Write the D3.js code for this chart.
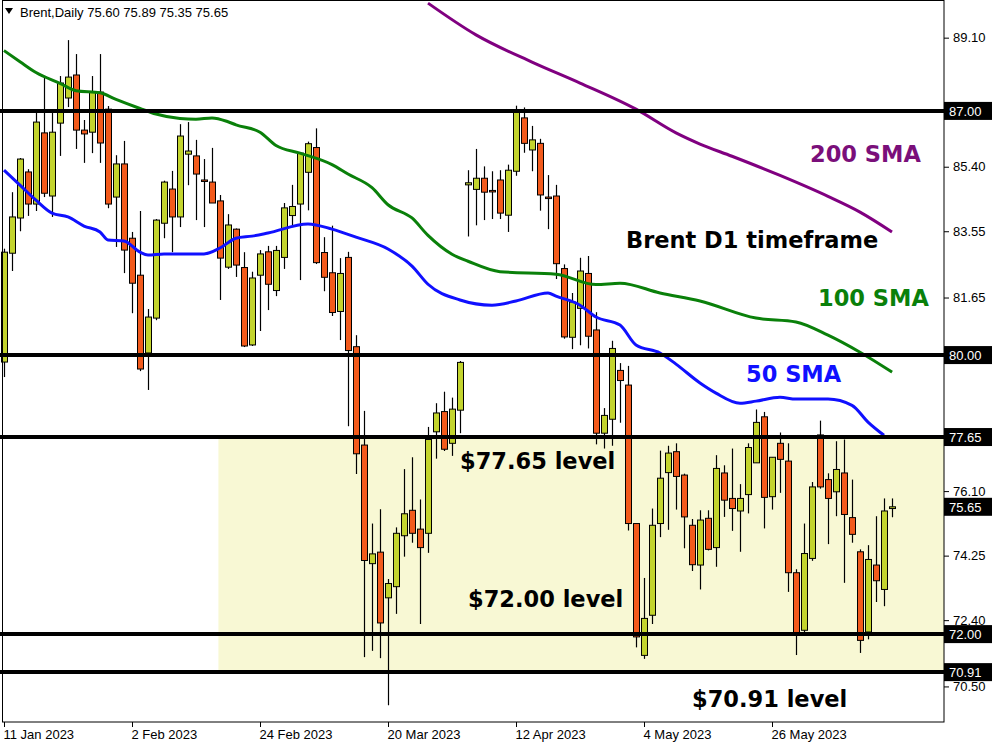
<!DOCTYPE html>
<html>
<head>
<meta charset="utf-8">
<script src="https://cdn.jsdelivr.net/npm/d3@7"></script>
<style>
body { margin: 0; background: #fff; }
text { font-family: "Liberation Sans", Arial, sans-serif; }
</style>
</head>
<body>
<script>
// daily bars, 11 Jan 2023 onwards
var open_ = [79.80,82.92,83.93,85.25,84.33,86.37,84.56,86.65,87.37,88.03,86.45,86.39,87.54,87.05,84.53,85.48,83.35,82.29,80.06,81.06,
83.78,84.76,83.96,85.76,85.71,85.02,84.96,84.42,82.52,83.61,82.51,80.29,82.29,82.96,81.85,82.80,84.00,84.33,85.24,85.95,
82.94,82.36,81.25,82.80,80.24,77.42,74.02,74.35,73.04,73.36,74.82,75.55,75.01,74.89,77.80,78.38,77.47,78.42,84.88,84.75,
85.07,84.72,85.02,84.01,85.27,86.80,85.88,86.07,84.53,84.56,82.48,80.51,81.34,82.34,80.72,77.76,78.16,79.56,79.14,75.17,
71.39,72.54,75.17,76.63,77.23,76.56,75.12,73.98,75.32,74.48,76.62,75.89,75.53,76.00,76.91,78.23,75.94,77.47,76.96,73.76,
72.11,74.17,77.71,76.43,76.08,76.62,75.34,74.36,72.06,73.98,73.28,75.60]
var high = [83.05,84.67,85.65,85.33,86.94,87.97,87.03,88.00,89.03,88.63,86.74,88.00,88.63,87.14,85.73,86.14,83.53,84.13,81.32,83.90,
85.00,85.28,86.62,86.68,86.17,85.62,85.94,84.59,84.04,83.63,82.95,82.39,83.01,83.13,83.13,84.36,84.88,85.82,86.12,86.50,
83.38,83.71,82.78,82.96,80.57,78.40,75.17,75.58,73.58,75.06,76.73,77.07,75.86,77.94,78.62,78.95,78.78,79.83,85.30,85.91,
85.41,85.27,85.30,85.46,87.15,87.10,86.57,86.20,85.16,84.88,82.60,81.78,82.79,82.84,81.23,78.48,80.41,79.77,79.69,75.17,
73.61,75.60,77.26,77.40,77.47,76.60,75.30,75.55,75.55,77.13,76.84,77.32,76.30,77.47,78.44,78.37,77.07,77.78,77.47,73.86,
75.17,76.36,78.12,76.61,77.53,77.58,76.43,74.43,74.55,75.38,75.89,75.89]
var low = [79.37,82.41,83.55,83.99,84.13,84.53,83.96,85.71,87.11,85.91,85.51,85.79,85.51,84.21,83.10,82.35,81.20,79.54,79.00,81.00,
83.35,82.95,83.67,84.87,83.87,83.67,84.36,81.58,82.47,82.24,80.23,80.26,80.69,81.29,81.69,82.47,83.71,82.15,84.15,82.61,
81.83,81.12,80.43,77.96,76.59,71.34,71.52,71.31,69.96,72.58,74.22,74.62,72.29,74.33,77.03,77.25,77.11,77.76,83.40,83.72,
83.87,83.90,83.90,83.53,85.14,85.80,85.27,84.14,83.61,82.18,80.47,80.17,80.28,80.19,77.44,77.32,77.40,78.06,74.97,71.62,
71.29,72.29,74.78,74.99,75.57,74.46,73.81,73.28,74.40,73.93,75.36,74.96,74.36,75.46,76.91,75.03,75.57,76.05,73.21,71.40,
72.04,74.10,76.17,74.58,75.38,73.47,74.62,71.46,71.85,72.92,72.80,75.35]
var close = [82.95,83.96,85.62,84.33,86.68,84.64,86.39,87.80,87.97,86.45,86.34,87.54,86.08,84.33,85.48,83.01,82.06,79.60,81.09,83.87,
84.96,83.96,86.28,85.85,85.19,85.00,84.36,82.78,83.73,82.58,80.26,82.21,82.90,82.03,83.00,84.22,84.26,85.79,86.06,82.65,
82.23,81.22,82.34,80.13,77.17,74.11,74.30,72.32,73.45,74.89,75.45,74.89,74.48,77.58,78.34,77.30,78.45,79.79,84.94,85.07,
84.67,84.70,84.07,85.30,86.99,86.07,86.17,84.59,84.50,82.62,80.52,81.52,82.41,80.54,77.76,78.27,80.19,79.27,75.17,71.92,
72.45,75.12,76.47,77.19,76.52,75.36,73.99,75.27,74.43,76.75,75.84,75.60,75.89,77.35,78.07,75.92,77.07,77.01,73.76,72.04,
74.31,76.22,76.22,75.89,76.72,75.43,74.86,71.82,74.14,73.53,75.53,75.65]

// moving averages read at sample bars: [bar, value]
var sma50 = [[0,85.30],[2,84.87],[4,84.44],[6,84.07],[8,83.96],[10,83.70],[12,83.53],[13,83.30],[15,83.27],[17,82.95],[18,82.87],
[20,82.90],[25,82.90],[27,83.07],[29,83.35],[31,83.41],[33,83.50],[38,83.76],[41,83.61],[44,83.38],[48,83.04],[51,82.55],
[53,82.03],[57,81.58],[61,81.43],[64,81.55],[68,81.78],[69,81.69],[72,81.43],[74,81.09],[77,80.86],[79,80.29],[82,80.06],
[84,79.74],[87,79.20],[89,78.91],[92,78.62],[94,78.68],[97,78.79],[99,78.74],[103,78.74],[106,78.56],[108,78.08],[110,77.70]]
var sma100 = [[0,88.73],[2,88.41],[4,88.10],[7,87.79],[9,87.58],[12,87.52],[14,87.33],[17,87.07],[19,86.91],[22,86.78],[24,86.76],
[26,86.80],[28,86.69],[29,86.60],[32,86.39],[34,86.01],[37,85.79],[41,85.46],[43,85.19],[46,84.80],[48,84.31],[51,83.93],
[53,83.43],[56,82.89],[58,82.69],[62,82.39],[69,82.32],[74,82.02],[77,82.06],[82,81.78],[87,81.55],[94,81.06],[99,80.95],
[103,80.57],[107,80.08],[111,79.51]]
var sma200 = [[53,90.09],[59,89.18],[66,88.40],[72,87.80],[79,87.05],[84,86.37],[87,86.05],[91,85.70],[97,85.15],[103,84.55],
[107,84.10],[111,83.53]]

var levels = [87.00, 80.00, 77.65, 72.00, 70.91]
var priceTicks = [89.10, 87.25, 85.40, 83.55, 81.65, 79.80, 77.95, 76.10, 74.25, 72.40, 70.50]
var dateTicks = [0, 16, 32, 48, 64, 80, 96]
var dateLabels = ["11 Jan 2023", "2 Feb 2023", "24 Feb 2023", "20 Mar 2023", "12 Apr 2023", "4 May 2023", "26 May 2023"]
var zoneStart = 26.8, zoneTop = 77.65, zoneBottom = 70.91

var W = 1000, H = 750
var plotR = 944, plotB = 722

var x = d3.scaleLinear().domain([0, 1]).range([4, 12])
var y = d3.scaleLinear().domain([69.48, 90.18]).range([plotB, 0])

var svg = d3.select("body").append("svg").attr("width", W).attr("height", H)

svg.append("rect").attr("x", x(zoneStart)).attr("y", y(zoneTop))
    .attr("width", plotR - x(zoneStart)).attr("height", y(zoneBottom) - y(zoneTop))
    .attr("fill", "#f8f8d4")

// candles
var bars = d3.range(close.length)
var g = svg.append("g")
g.selectAll("line.wick").data(bars).enter().append("line")
    .attr("x1", i => x(i) + 0.5).attr("x2", i => x(i) + 0.5)
    .attr("y1", i => y(high[i])).attr("y2", i => y(low[i]))
    .attr("stroke", "#000").attr("stroke-width", 1.2)
g.selectAll("rect.body").data(bars).enter().append("rect")
    .attr("x", i => x(i) - 2.5)
    .attr("y", i => y(Math.max(open_[i], close[i])))
    .attr("width", 6)
    .attr("height", i => Math.max(1.5, Math.abs(y(open_[i]) - y(close[i]))))
    .attr("fill", i => close[i] >= open_[i] ? "#c3d42e" : "#f25a1c")
    .attr("stroke", "#000").attr("stroke-width", 1)

var line = d3.line().x(d => x(d[0])).y(d => y(d[1])).curve(d3.curveMonotoneX)
svg.append("path").attr("d", line(sma50)).attr("fill", "none").attr("stroke", "#1010ff").attr("stroke-width", 3)
svg.append("path").attr("d", line(sma100)).attr("fill", "none").attr("stroke", "#0a800a").attr("stroke-width", 3)
svg.append("path").attr("d", line(sma200)).attr("fill", "none").attr("stroke", "#800080").attr("stroke-width", 3)

// level lines
svg.selectAll("line.level").data(levels).enter().append("line")
    .attr("x1", 0).attr("x2", plotR).attr("y1", d => y(d)).attr("y2", d => y(d))
    .attr("stroke", "#000").attr("stroke-width", 4)

// frame
svg.append("rect").attr("x", 2.5).attr("y", 0.5).attr("width", plotR - 2.5).attr("height", plotB - 0.5)
    .attr("fill", "none").attr("stroke", "#000").attr("stroke-width", 1)

// axes (labels under the level boxes are left out, as they are hidden there)
var boxes = levels.concat([close[close.length - 1]])
var shown = priceTicks.filter(t => boxes.every(b => Math.abs(y(t) - y(b)) > 12))
var yAxis = d3.axisRight(y).tickValues(shown).tickFormat(d3.format(".2f")).tickSize(5).tickPadding(4)
var ya = svg.append("g").attr("transform", "translate(" + plotR + ",0)").call(yAxis)
ya.select(".domain").remove()
ya.selectAll("text").attr("font-size", 13).attr("fill", "#000")

var xAxis = d3.axisBottom(x).tickValues(dateTicks).tickFormat((d, i) => dateLabels[i]).tickSize(5).tickPadding(3)
var xa = svg.append("g").attr("transform", "translate(0," + plotB + ")").call(xAxis)
xa.select(".domain").remove()
xa.selectAll("text").attr("font-size", 13).attr("fill", "#000").attr("text-anchor", "start").attr("dx", -1)

// price boxes
var bx = svg.selectAll("g.box").data(boxes).enter().append("g")
    .attr("transform", d => "translate(" + plotR + "," + y(d) + ")")
bx.append("rect").attr("x", 0).attr("y", -9).attr("width", 48).attr("height", 18).attr("fill", "#000")
bx.append("text").attr("x", 5).attr("y", 5).attr("fill", "#fff").attr("font-size", 13)
    .text(d => d.toFixed(2))

// header
svg.append("path").attr("d", "M5,8 L13,8 L9,14 Z").attr("fill", "#000")
svg.append("text").attr("x", 20).attr("y", 17).attr("font-size", 13).attr("fill", "#000")
    .text("Brent,Daily  75.60 75.89 75.35 75.65")

// annotations
var notes = [
    ["200 SMA", 810, 162, "#7a0f7a"],
    ["Brent D1 timeframe", 626, 248, "#000"],
    ["100 SMA", 818, 306, "#0a800a"],
    ["50 SMA", 746, 382, "#1010ff"],
    ["$77.65 level", 460, 469, "#000"],
    ["$72.00 level", 468, 607, "#000"],
    ["$70.91 level", 692, 707, "#000"]
]
svg.selectAll("text.note").data(notes).enter().append("text")
    .attr("x", d => d[1]).attr("y", d => d[2]).attr("fill", d => d[3])
    .style("font-family", "'DejaVu Sans', sans-serif")
    .attr("font-size", 22.5).attr("font-weight", "bold").text(d => d[0])
</script>
</body>
</html>
